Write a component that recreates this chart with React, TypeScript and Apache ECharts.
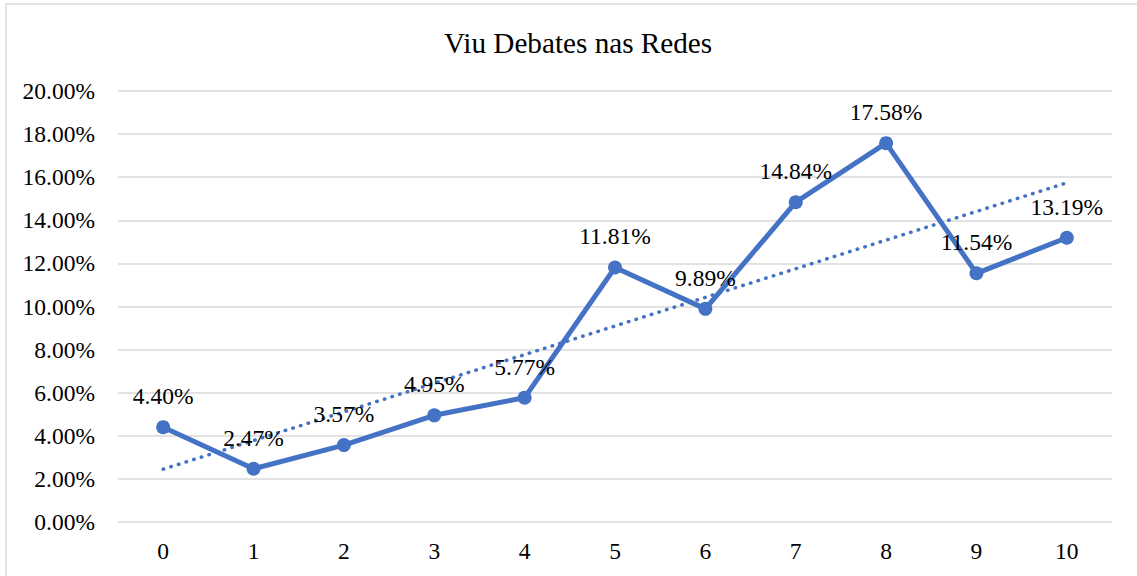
import React, { useEffect, useRef } from "react";
import * as echarts from "echarts";

const categories = ["0", "1", "2", "3", "4", "5", "6", "7", "8", "9", "10"];
const values = [4.4, 2.47, 3.57, 4.95, 5.77, 11.81, 9.89, 14.84, 17.58, 11.54, 13.19];
// linear trendline endpoints (at category 0 and 10)
const trendStart = 2.45;
const trendEnd = 15.74;
const yTicks = { min: 0, max: 20, interval: 2 };
const titleText = "Viu Debates nas Redes";

const FONT = "Liberation Serif, Times New Roman, serif";
const BLUE = "#4472C4";
const FS = 23.5;

export default function App() {
  const ref = useRef<HTMLDivElement>(null);
  useEffect(() => {
    if (!ref.current) return;
    const chart = echarts.init(ref.current, undefined, { renderer: "svg" });
    chart.setOption({
      animation: false,
      backgroundColor: "#ffffff",
      textStyle: { fontFamily: FONT },
      graphic: [
        {
          type: "rect",
          shape: { x: 6, y: 4, width: 1140, height: 580 },
          style: { fill: "none", stroke: "#d9d9d9", lineWidth: 1.5 },
          silent: true,
          z: -10,
        },
      ],
      title: {
        text: titleText,
        left: 439,
        top: 23,
        textStyle: { fontFamily: FONT, fontSize: 29.2, fontWeight: "normal", color: "#000" },
      },
      grid: { left: 118, right: 25, top: 91, bottom: 54 },
      xAxis: {
        type: "category",
        data: categories,
        boundaryGap: true,
        axisLine: { show: false },
        axisTick: { show: false },
        axisLabel: { fontFamily: FONT, fontSize: FS, color: "#000", margin: 17 },
      },
      yAxis: {
        type: "value",
        min: yTicks.min,
        max: yTicks.max,
        interval: yTicks.interval,
        axisLine: { show: false },
        axisTick: { show: false },
        splitLine: { lineStyle: { color: "#d9d9d9", width: 1.5 } },
        axisLabel: {
          fontFamily: FONT,
          fontSize: FS,
          color: "#000",
          margin: 23,
          formatter: (v: number) => v.toFixed(2) + "%",
        },
      },
      series: [
        {
          type: "line",
          data: [
            [0, trendStart],
            [categories.length - 1, trendEnd],
          ],
          symbol: "none",
          lineStyle: { color: BLUE, width: 3.5, type: [0.5, 7.5], cap: "round" },
          z: 1,
          silent: true,
        },
        {
          type: "line",
          data: values,
          symbol: "circle",
          symbolSize: 14,
          itemStyle: { color: BLUE },
          lineStyle: { color: BLUE, width: 5 },
          z: 2,
          label: {
            show: true,
            position: "top",
            distance: 12,
            fontFamily: FONT,
            fontSize: FS,
            color: "#000",
            formatter: (p: any) => Number(p.value).toFixed(2) + "%",
          },
        },
      ],
    });
    return () => chart.dispose();
  }, []);
  return (
    <div
      ref={ref}
      style={{ position: "fixed", left: 0, top: 0, width: 1137, height: 576 }}
    />
  );
}
